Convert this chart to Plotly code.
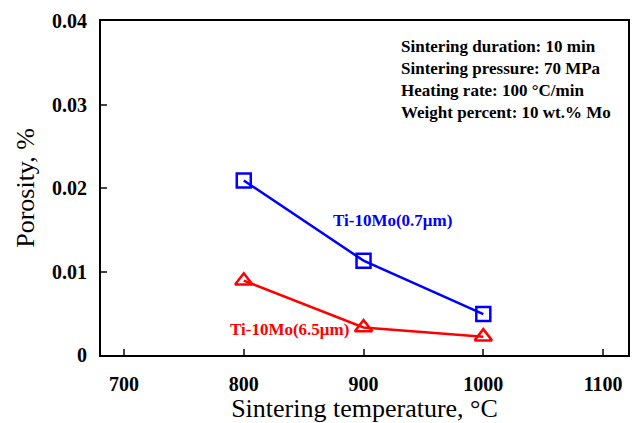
import plotly.graph_objects as go

temps = [800, 900, 1000]
fine_porosity = [0.0209, 0.0113, 0.0049]
coarse_porosity = [0.0089, 0.0033, 0.0022]
x_ticks = [700, 800, 900, 1000, 1100]
y_ticks = [0, 0.01, 0.02, 0.03, 0.04]
y_tick_text = ["0", "0.01", "0.02", "0.03", "0.04"]

font = "Liberation Serif, Times New Roman, serif"

fig = go.Figure()
fig.add_trace(go.Scatter(x=temps, y=fine_porosity, mode="lines+markers",
                         line=dict(color="#0000ff", width=2.5),
                         marker=dict(symbol="square-open", size=14, color="#0000ff", line=dict(width=2.5)),
                         showlegend=False))
fig.add_trace(go.Scatter(x=temps, y=coarse_porosity, mode="lines+markers",
                         line=dict(color="#ff0000", width=2.5),
                         marker=dict(symbol="triangle-up-open", size=15, color="#ff0000", line=dict(width=2.5)),
                         showlegend=False))

fig.add_annotation(x=924, y=0.0161, text="<b>Ti-10Mo(0.7μm)</b>", showarrow=False,
                   font=dict(family=font, size=17, color="#0000ff"))
fig.add_annotation(x=838, y=0.0030, text="<b>Ti-10Mo(6.5μm)</b>", showarrow=False,
                   font=dict(family=font, size=17, color="#ff0000"))
fig.add_annotation(x=0.565, xref="paper", y=0.958, yref="paper", xanchor="left", yanchor="top",
                   align="left", showarrow=False,
                   text="<b>Sintering duration: 10 min<br>Sintering pressure: 70 MPa<br>Heating rate: 100 °C/min<br>Weight percent: 10 wt.% Mo</b>",
                   font=dict(family=font, size=17, color="black"))

fig.update_layout(
    width=630, height=415,
    margin=dict(l=93, r=10, t=13, b=68, autoexpand=False),
    plot_bgcolor="white", paper_bgcolor="white",
    font=dict(family=font, color="black"),
    xaxis=dict(range=[680.8, 1120.8], tickvals=x_ticks, ticktext=["<b>%d</b>" % t for t in x_ticks],
               ticks="inside", ticklen=6, tickwidth=1.5, automargin=False,
               showline=True, linewidth=2, linecolor="black", mirror=True, showgrid=False, zeroline=False,
               tickfont=dict(family=font, size=20, color="black"), ticklabelstandoff=10,
               title=dict(text="Sintering temperature, °C", font=dict(family=font, size=26), standoff=5)),
    yaxis=dict(range=[0, 0.04], tickvals=y_ticks, ticktext=["<b>%s</b>" % t for t in y_tick_text],
               ticks="inside", ticklen=6, tickwidth=1.5, automargin=False,
               showline=True, linewidth=2, linecolor="black", mirror=True, showgrid=False, zeroline=False,
               tickfont=dict(family=font, size=20, color="black"), ticklabelstandoff=8,
               title=dict(text="Porosity, %", font=dict(family=font, size=26), standoff=10)),
)
fig.write_html("out.html")
